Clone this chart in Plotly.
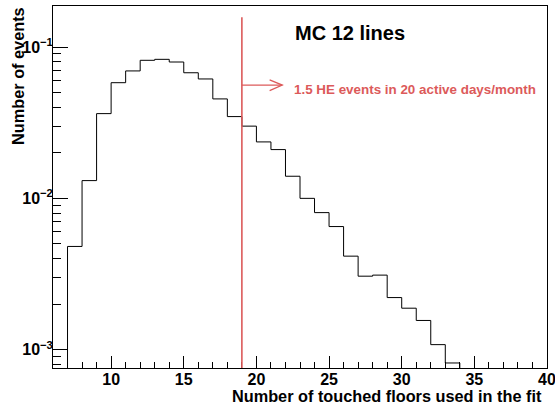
import plotly.graph_objects as go

# ---- data ----
bin_low_edges = [7, 8, 9, 10, 11, 12, 13, 14, 15, 16, 17, 18, 19, 20,
                 21, 22, 23, 24, 25, 26, 27, 28, 29, 30, 31, 32, 33]
bin_width = 1
counts = [0.00481, 0.0131, 0.0363, 0.0581, 0.0695, 0.0817, 0.0829, 0.0796,
          0.0676, 0.0615, 0.0454, 0.0347, 0.0300, 0.0236, 0.0210, 0.0140,
          0.0100, 0.00805, 0.00651, 0.00415, 0.00306, 0.00311, 0.00221,
          0.00188, 0.00156, 0.00108, 0.000817]
cut_value = 19
x_range = [6, 40]
y_log_range = [-3.121, -0.729]
x_major_ticks = [10, 15, 20, 25, 30, 35, 40]
y_major_ticks = [1e-3, 1e-2, 1e-1]
y_tick_labels = ["10<sup>\u22123</sup>", "10<sup>\u22122</sup>", "10<sup>\u22121</sup>"]
y_minor_ticks = [8e-4, 9e-4] + [k * 1e-3 for k in range(2, 10)] + [k * 1e-2 for k in range(2, 10)]

title_text = "MC 12 lines"
cut_text = "1.5 HE events in 20 active days/month"
x_title = "Number of touched floors used in the fit"
y_title = "Number of events"

RED = "#dc5a5a"
FONT = "Liberation Sans"

# build histogram outline (step) from bins
floor_val = 1e-5
xs = [bin_low_edges[0]]
ys = [floor_val]
for e, c in zip(bin_low_edges, counts):
    xs.append(e)
    ys.append(c)
last_edge = bin_low_edges[-1] + bin_width
xs += [last_edge, last_edge]
ys += [counts[-1], floor_val]

fig = go.Figure()
fig.add_trace(go.Scatter(x=xs, y=ys, mode="lines", line=dict(color="black", width=1, shape="hv"),
                         hoverinfo="skip", showlegend=False))

# red cut line and arrow
fig.add_shape(type="line", xref="x", yref="paper", x0=cut_value, x1=cut_value, y0=0, y1=0.969,
              line=dict(color=RED, width=1.6))
arrow_y = 0.7815
tip_x = cut_value + 2.78
fig.add_shape(type="line", xref="x", yref="paper", x0=cut_value, x1=tip_x, y0=arrow_y, y1=arrow_y,
              line=dict(color=RED, width=1.3))
fig.add_shape(type="path", xref="x", yref="paper",
              path=f"M {tip_x-0.87} {arrow_y+0.0145} L {tip_x} {arrow_y} L {tip_x-0.87} {arrow_y-0.0155}",
              line=dict(color=RED, width=1.3))

fig.add_annotation(text=title_text, xref="x", yref="paper", x=22.52, y=0.925,
                   xanchor="left", yanchor="middle", showarrow=False,
                   font=dict(family=FONT, size=20, color="black", weight="bold"))
fig.add_annotation(text=cut_text, xref="x", yref="paper", x=22.45, y=0.770,
                   xanchor="left", yanchor="middle", showarrow=False,
                   font=dict(family=FONT, size=13.4, color=RED, weight="bold"))
fig.add_annotation(text=x_title, xref="paper", yref="paper", x=0.993, y=-0.078,
                   xanchor="right", yanchor="middle", showarrow=False,
                   font=dict(family=FONT, size=16.3, color="black", weight="bold"))
fig.add_annotation(text=y_title, xref="paper", yref="paper", x=-0.0708, y=0.807,
                   xanchor="center", yanchor="middle", showarrow=False, textangle=-90,
                   font=dict(family=FONT, size=16.3, color="black", weight="bold"))

fig.update_layout(
    width=555, height=407,
    margin=dict(l=52.5, r=8.3, t=6, b=38.7, autoexpand=False),
    paper_bgcolor="white", plot_bgcolor="white",
    showlegend=False,
    xaxis=dict(range=x_range, tickmode="array", tickvals=x_major_ticks, automargin=False,
               ticks="inside", ticklen=12, tickwidth=1, tickcolor="black",
               minor=dict(dtick=1, tick0=0, ticks="inside", ticklen=6, tickcolor="black", tickwidth=1),
               showline=True, linecolor="black", linewidth=1, mirror=True,
               showgrid=False, zeroline=False, ticklabeloverflow="allow", ticklabelstandoff=-3,
               tickfont=dict(family=FONT, size=16, color="black", weight="bold")),
    yaxis=dict(type="log", range=y_log_range, tickmode="array", tickvals=y_major_ticks,
               ticktext=y_tick_labels, automargin=False,
               ticks="inside", ticklen=15, tickwidth=1, tickcolor="black",
               minor=dict(tickmode="array", tickvals=y_minor_ticks, ticks="inside", ticklen=7.5,
                          tickcolor="black", tickwidth=1),
               showline=True, linecolor="black", linewidth=1, mirror=True,
               showgrid=False, zeroline=False, ticklabelstandoff=-4,
               tickfont=dict(family=FONT, size=16, color="black", weight="bold")),
)

fig.write_html("out.html")
